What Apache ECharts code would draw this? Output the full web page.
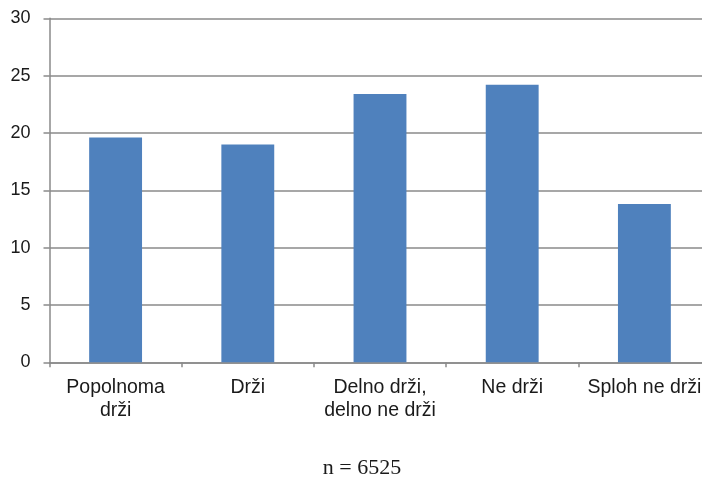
<!DOCTYPE html>
<html>
<head>
<meta charset="utf-8">
<script src="https://cdn.jsdelivr.net/npm/echarts@6/dist/echarts.min.js"></script>
<style>
html,body{margin:0;padding:0;background:#fff;}
#chart{width:702px;height:481px;}
</style>
</head>
<body>
<div id="chart"></div>
<script>
var categories = ['Popolnoma\ndrži', 'Drži', 'Delno drži,\ndelno ne drži', 'Ne drži', 'Sploh ne drži'];
var values = [19.6, 19.0, 23.4, 24.2, 13.8];
var yTicks = [0, 5, 10, 15, 20, 25, 30];
var footnote = 'n = 6525';

var chart = echarts.init(document.getElementById('chart'), null, {renderer: 'canvas'});
chart.setOption({
  animation: false,
  backgroundColor: '#ffffff',
  graphic: [{
    type: 'text',
    x: 362,
    y: 468,
    style: {
      text: footnote,
      align: 'center',
      verticalAlign: 'middle',
      fontFamily: 'Liberation Serif',
      fontSize: 22,
      fill: '#1a1a1a'
    }
  }],
  grid: {
    left: 49.5,
    width: 661,
    top: 18.3,
    bottom: 118.7,
    containLabel: false,
    outerBoundsMode: 'none'
  },
  xAxis: {
    type: 'category',
    data: categories,
    axisLine: {lineStyle: {color: '#8a8a8a', width: 1.5}},
    axisTick: {show: true, length: 5, lineStyle: {color: '#8a8a8a', width: 1.5}},
    axisLabel: {
      color: '#1a1a1a',
      fontFamily: 'Liberation Sans',
      fontSize: 19.5,
      lineHeight: 23,
      margin: 14,
      interval: 0
    },
    splitLine: {show: false}
  },
  yAxis: {
    type: 'value',
    min: yTicks[0],
    max: yTicks[yTicks.length - 1],
    interval: 5,
    axisLine: {show: true, lineStyle: {color: '#8a8a8a', width: 1.5}},
    axisTick: {show: true, length: 6, lineStyle: {color: '#8a8a8a', width: 1.5}},
    axisLabel: {
      color: '#1a1a1a',
      fontFamily: 'Liberation Sans',
      fontSize: 18,
      margin: 19
    },
    splitLine: {show: true, lineStyle: {color: '#8a8a8a', width: 1.5}}
  },
  series: [{
    type: 'bar',
    data: values,
    barWidth: '40%',
    itemStyle: {color: '#4f81bd'}
  }]
});
</script>
</body>
</html>
